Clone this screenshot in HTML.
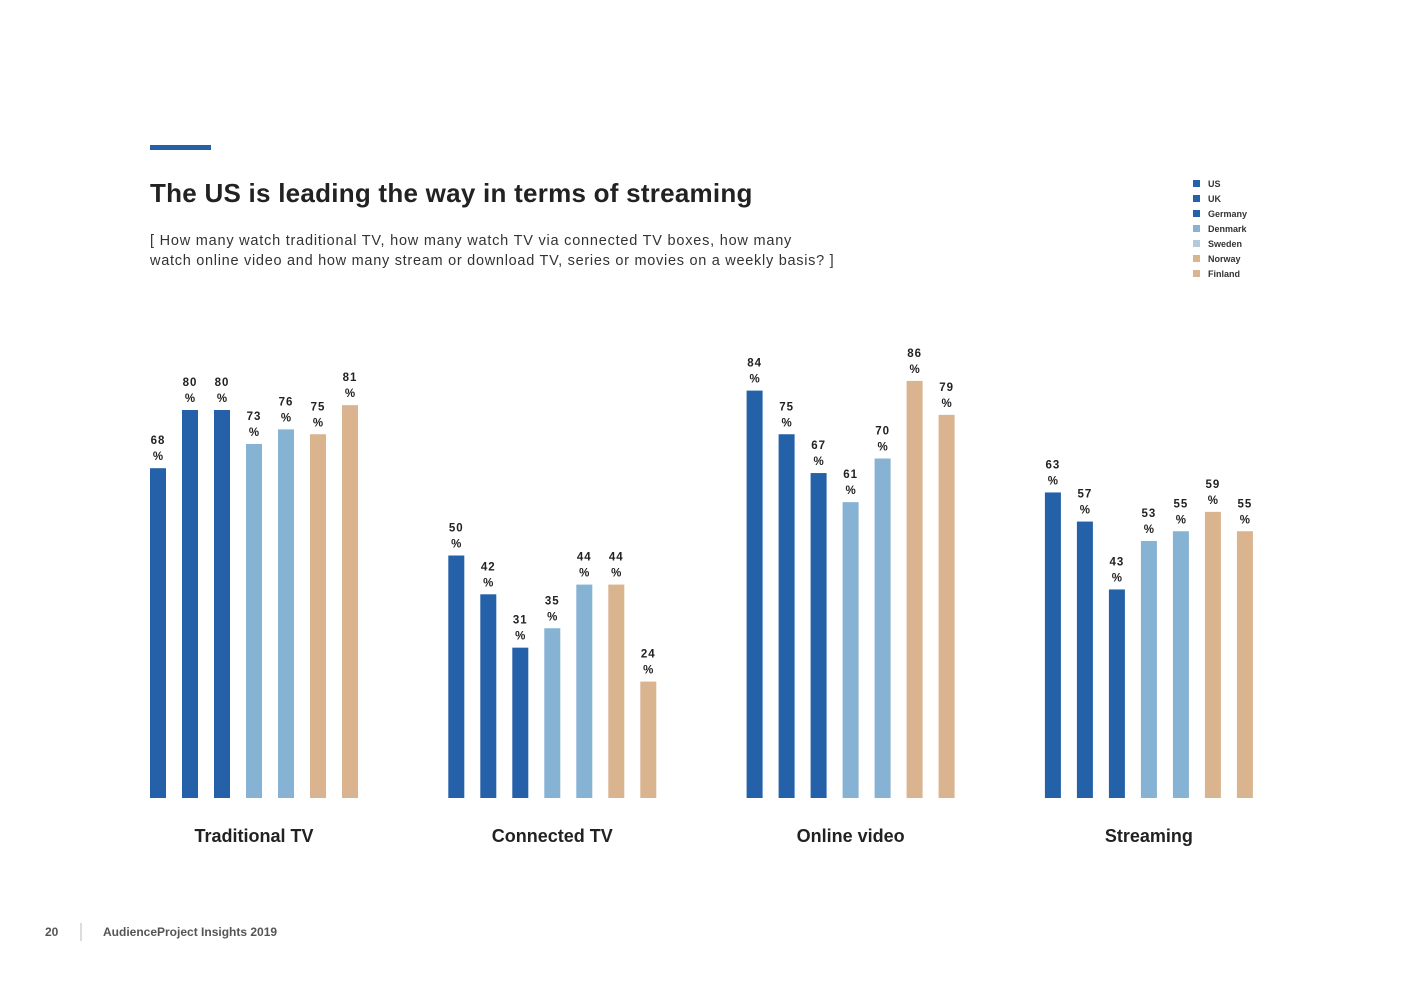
<!DOCTYPE html>
<html><head><meta charset="utf-8"><style>
body{margin:0;background:#fff;width:1403px;height:992px;overflow:hidden;font-family:"Liberation Sans",sans-serif}
svg{position:absolute;left:0;top:0}
</style></head><body>
<svg id="c" width="1403" height="992">
<rect x="150" y="145" width="61" height="5" fill="#2561a8"/>
<text x="150" y="202" font-size="26" font-weight="bold" fill="#222" letter-spacing="0.25">The US is leading the way in terms of streaming</text>
<text x="150" y="245" font-size="14.5" fill="#333" letter-spacing="0.78">[ How many watch traditional TV, how many watch TV via connected TV boxes, how many</text>
<text x="150" y="265" font-size="14.5" fill="#333" letter-spacing="0.72">watch online video and how many stream or download TV, series or movies on a weekly basis? ]</text>
<text x="45" y="936" font-size="12" font-weight="bold" fill="#555">20</text>
<line x1="81" y1="923" x2="81" y2="941" stroke="#bbb"/>
<text x="103" y="936" font-size="12" font-weight="bold" fill="#555">AudienceProject Insights 2019</text>
<g id="bars"></g><g id="legend"></g>
</svg>
<script>
const categories = ["Traditional TV","Connected TV","Online video","Streaming"];
const countries = ["US","UK","Germany","Denmark","Sweden","Norway","Finland"];
const usVals = [68,50,84,63];
const ukVals = [80,42,75,57];
const deVals = [80,31,67,43];
const dkVals = [73,35,61,53];
const seVals = [76,44,70,55];
const noVals = [75,44,86,59];
const fiVals = [81,24,79,55];
const series = [usVals,ukVals,deVals,dkVals,seVals,noVals,fiVals];
const colors = ["#2561a8","#2561a8","#2561a8","#86b2d3","#86b2d3","#d9b48f","#d9b48f"];
const legendColors = ["#2561a8","#2561a8","#2561a8","#86b2d3","#b3cadc","#d9b48f","#d9b48f"];
const NS="http://www.w3.org/2000/svg";
const base=798, scale=4.85;
function y(v){return base - v*scale;}
function x(g,i){return 150 + g*298.3 + i*32;}
const bars=document.getElementById('bars');
categories.forEach((cat,g)=>{
  series.forEach((s,i)=>{
    const v=s[g];
    const r=document.createElementNS(NS,'rect');
    r.setAttribute('x',x(g,i));r.setAttribute('y',y(v));
    r.setAttribute('width',16);r.setAttribute('height',base-y(v));
    r.setAttribute('fill',colors[i]);
    
    
    bars.appendChild(r);
    const t=document.createElementNS(NS,'text');
    t.setAttribute('x',x(g,i)+8);t.setAttribute('y',y(v)-24);
    t.setAttribute('text-anchor','middle');t.setAttribute('font-size','11.5');
    t.setAttribute('font-weight','bold');t.setAttribute('fill','#222');t.setAttribute('letter-spacing','1');
    t.textContent=v;
    
    
    bars.appendChild(t);
    const p=document.createElementNS(NS,'text');
    p.setAttribute('x',x(g,i)+8);p.setAttribute('y',y(v)-8);
    p.setAttribute('text-anchor','middle');p.setAttribute('font-size','11.5');
    p.setAttribute('font-weight','bold');p.setAttribute('fill','#222');
    p.textContent='%';
    
    
    bars.appendChild(p);
  });
  const c=document.createElementNS(NS,'text');
  c.setAttribute('x',x(g,3)+8);c.setAttribute('y',842);
  c.setAttribute('text-anchor','middle');c.setAttribute('font-size','18');
  c.setAttribute('font-weight','bold');c.setAttribute('fill','#222');
  c.textContent=cat;
  
  
  bars.appendChild(c);
});
const lg=document.getElementById('legend');
countries.forEach((n,i)=>{
  const r=document.createElementNS(NS,'rect');
  r.setAttribute('x',1193);r.setAttribute('y',180+i*15);r.setAttribute('width',7);r.setAttribute('height',7);
  r.setAttribute('fill',legendColors[i]);
  
  
  lg.appendChild(r);
  const t=document.createElementNS(NS,'text');
  t.setAttribute('x',1208);t.setAttribute('y',187+i*15);t.setAttribute('font-size','9');
  t.setAttribute('font-weight','bold');t.setAttribute('fill','#333');
  t.textContent=n;
  
  
  lg.appendChild(t);
});
</script>
</body></html>
